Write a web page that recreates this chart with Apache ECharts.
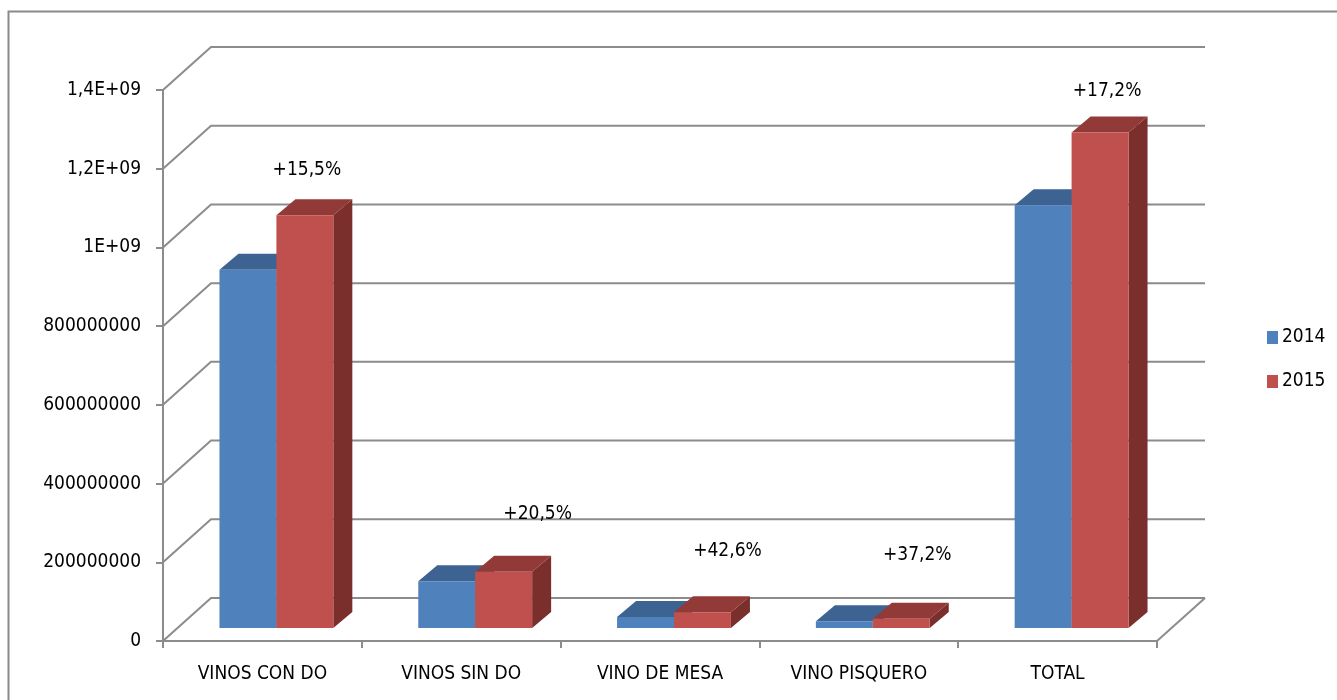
<!DOCTYPE html>
<html>
<head>
<meta charset="utf-8">
<script src="https://cdn.jsdelivr.net/npm/echarts@6/dist/echarts.min.js"></script>
<style>
  html, body { margin: 0; padding: 0; background: #ffffff; }
  #chart { width: 1337px; height: 700px; }
</style>
</head>
<body>
<div id="chart"></div>
<script>
// ---- data ----
const categories = ['VINOS CON DO', 'VINOS SIN DO', 'VINO DE MESA', 'VINO PISQUERO', 'TOTAL'];
const seriesNames = ['2014', '2015'];
const values2014 = [910e6, 119e6, 28e6, 17e6, 1074e6];
const values2015 = [1049e6, 143e6, 40e6, 23.3e6, 1259e6];
const changeLabels = ['+15,5%', '+20,5%', '+42,6%', '+37,2%', '+17,2%'];
const yTicks = [0, 2e8, 4e8, 6e8, 8e8, 1e9, 1.2e9, 1.4e9];
const yTickLabels = ['0', '200000000', '400000000', '600000000', '800000000', '1E+09', '1,2E+09', '1,4E+09'];

// ---- styling / layout ----
const FONT = '"DejaVu Sans Condensed", "Liberation Sans Narrow", sans-serif';
const FONT_SIZE = 19;
const LINE = '#8c8c8c';
const WALL_DX = 48, WALL_DY = 43;     // depth of the floor / side wall
const BAR_SHIFT_X = 14, BAR_SHIFT_Y = -13; // bar row position inside the depth
const BAR_DX = 19, BAR_DY = 16;       // bar depth
const BAR_FRAC = 0.2864;              // bar width as a share of category band
const labelOffsets = [[2, -45], [34, -58], [25, -61], [16, -64], [7, -41]];
const palette = [
  { front: '#4F81BD', top: '#3C6391', side: '#385D8A' },
  { front: '#C0504D', top: '#923A37', side: '#7A2F2D' }
];

function barRenderer(sIdx) {
  const c = palette[sIdx];
  return function (params, api) {
    const i = api.value(0);
    const v = api.value(1);
    const base = api.coord([i, 0]);
    const top = api.coord([i, v]);
    const band = api.size([1, 0])[0];
    const w = band * BAR_FRAC;
    const cx = base[0] + BAR_SHIFT_X;
    const x1 = sIdx === 0 ? cx - w : cx;
    const x2 = x1 + w;
    const yb = base[1] + BAR_SHIFT_Y;
    const yt = top[1] + BAR_SHIFT_Y;
    const children = [
      { type: 'polygon', shape: { points: [[x2, yb], [x2 + BAR_DX, yb - BAR_DY], [x2 + BAR_DX, yt - BAR_DY], [x2, yt]] },
        style: { fill: c.side } },
      { type: 'polygon', shape: { points: [[x1, yt], [x2, yt], [x2 + BAR_DX, yt - BAR_DY], [x1 + BAR_DX, yt - BAR_DY]] },
        style: { fill: c.top } },
      { type: 'rect', shape: { x: x1, y: yt, width: w, height: yb - yt },
        style: { fill: c.front } }
    ];
    if (sIdx === 1) {
      const off = labelOffsets[params.dataIndex];
      children.push({
        type: 'text',
        style: {
          text: changeLabels[params.dataIndex],
          x: (x1 + x2) / 2 + off[0],
          y: yt + off[1],
          align: 'center',
          verticalAlign: 'middle',
          fill: '#000000',
          font: FONT_SIZE + 'px ' + FONT
        }
      });
    }
    return { type: 'group', children: children };
  };
}

function wallRenderer(params, api) {
  const cs = params.coordSys;
  const v = api.value(1);
  const y = api.coord([0, v])[1];
  const x0 = cs.x, x1 = cs.x + cs.width;
  const children = [
    { type: 'polyline',
      shape: { points: [[x0, y], [x0 + WALL_DX, y - WALL_DY], [x1 + WALL_DX, y - WALL_DY]] },
      style: { stroke: LINE, lineWidth: 2, fill: null } }
  ];
  if (v === 0) {
    children.push({ type: 'line',
      shape: { x1: x1, y1: y, x2: x1 + WALL_DX, y2: y - WALL_DY },
      style: { stroke: LINE, lineWidth: 2 } });
  }
  return { type: 'group', children: children };
}

const chart = echarts.init(document.getElementById('chart'), null, { renderer: 'canvas' });
chart.setOption({
  backgroundColor: '#ffffff',
  animation: false,
  textStyle: { fontFamily: FONT },
  graphic: [{
    type: 'rect', left: 6, top: 9, z: -1,
    shape: { width: 1400, height: 800 },
    style: { fill: null, stroke: '#8a8a8a', lineWidth: 2 }
  }],
  legend: {
    orient: 'vertical',
    left: 1262, top: 323,
    itemWidth: 11, itemHeight: 13, itemGap: 25,
    icon: 'rect',
    data: seriesNames,
    textStyle: { fontSize: FONT_SIZE, fontFamily: FONT, color: '#000000', padding: [0, 0, 0, -1] }
  },
  grid: { left: 163, right: 180, top: 90, bottom: 59 },
  xAxis: {
    type: 'category',
    data: categories,
    axisLine: { lineStyle: { color: LINE, width: 2 } },
    axisTick: { show: true, length: 7, lineStyle: { color: LINE, width: 2 } },
    axisLabel: { color: '#000000', fontSize: FONT_SIZE, fontFamily: FONT, margin: 24 },
    splitLine: { show: false }
  },
  yAxis: {
    type: 'value',
    min: 0, max: 1.4e9, interval: 2e8,
    axisLine: { show: true, lineStyle: { color: LINE, width: 2 } },
    axisTick: { show: true, length: 7, lineStyle: { color: LINE, width: 2 } },
    axisLabel: {
      color: '#000000', fontSize: FONT_SIZE, fontFamily: FONT, margin: 22,
      formatter: function (v) { return yTickLabels[Math.round(v / 2e8)]; }
    },
    splitLine: { show: false }
  },
  series: [
    { type: 'custom', name: 'walls', silent: true, z: 1, clip: false,
      renderItem: wallRenderer,
      data: yTicks.map(function (v) { return [0, v]; }),
      encode: { x: 0, y: 1 } },
    { type: 'custom', name: seriesNames[0], z: 3, clip: false,
      itemStyle: { color: palette[0].front },
      renderItem: barRenderer(0),
      data: values2014.map(function (v, i) { return [i, v]; }),
      encode: { x: 0, y: 1 } },
    { type: 'custom', name: seriesNames[1], z: 4, clip: false,
      itemStyle: { color: palette[1].front },
      renderItem: barRenderer(1),
      data: values2015.map(function (v, i) { return [i, v]; }),
      encode: { x: 0, y: 1 } }
  ]
});
</script>
</body>
</html>
